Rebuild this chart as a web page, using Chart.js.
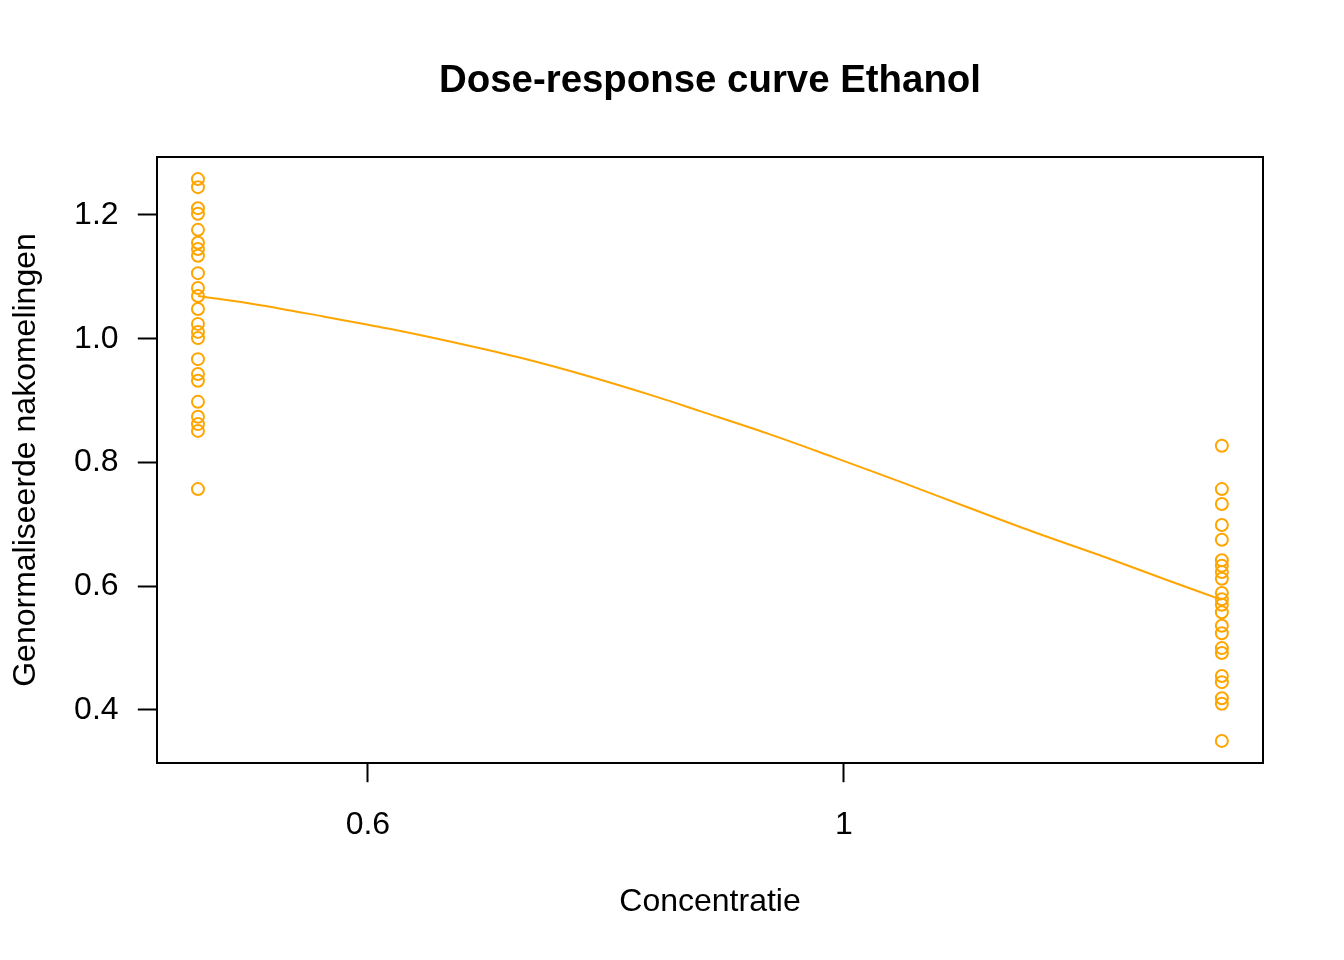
<!DOCTYPE html>
<html>
<head>
<meta charset="utf-8">
<style>
  html, body { margin: 0; padding: 0; background: #ffffff; }
  #wrap { width: 1344px; height: 960px; }
</style>
<script src="https://cdn.jsdelivr.net/npm/chart.js@4/dist/chart.umd.min.js"></script>
</head>
<body>
<div id="wrap"><canvas id="c" width="1344" height="960"></canvas></div>
<script>
// ---- data ----
const titleText = "Dose-response curve Ethanol";
const xLabel = "Concentratie";
const yLabel = "Genormaliseerde nakomelingen";

const lowDose = 0.5;
const highDose = 1.5;
const lowDoseValues = [1.258, 1.245, 1.211, 1.202, 1.176, 1.155, 1.145, 1.134, 1.106, 1.082,
  1.069, 1.048, 1.024, 1.011, 1.001, 0.967, 0.943, 0.932, 0.898, 0.874, 0.862, 0.851, 0.757];
const highDoseValues = [0.827, 0.757, 0.733, 0.699, 0.675, 0.642, 0.633, 0.623, 0.612, 0.589,
  0.579, 0.570, 0.558, 0.536, 0.524, 0.500, 0.492, 0.455, 0.445, 0.419, 0.410, 0.350];

const curveX = [0.5, 0.533, 0.572, 0.614, 0.660, 0.709, 0.761, 0.818, 0.857, 0.921, 0.988,
  1.062, 1.141, 1.225, 1.316, 1.414, 1.5];
const curveY = [1.069, 1.055, 1.036, 1.016, 0.993, 0.968, 0.939, 0.906, 0.883, 0.847, 0.809,
  0.769, 0.728, 0.688, 0.650, 0.610, 0.578];

const xTickValues = [0.6, 1];
const xTickLabels = ["0.6", "1"];
const yTickValues = [0.4, 0.6, 0.8, 1.0, 1.2];
const yTickLabels = ["0.4", "0.6", "0.8", "1.0", "1.2"];

const xRange = [0.4785, 1.5677];
const yRange = [0.3143, 1.2937];

// ---- build ----
const FONT = "'Liberation Sans', Arial, Helvetica, sans-serif";
const ORANGE = "#FFA500";

const pointData = [];
lowDoseValues.forEach(v => pointData.push({x: lowDose, y: v}));
highDoseValues.forEach(v => pointData.push({x: highDose, y: v}));
const curveData = curveX.map((x, i) => ({x: x, y: curveY[i]}));

const boxPlugin = {
  id: 'box',
  afterDraw(chart) {
    const a = chart.chartArea;
    const ctx = chart.ctx;
    ctx.save();
    ctx.strokeStyle = '#000';
    ctx.lineWidth = 2;
    ctx.strokeRect(a.left, a.top, a.right - a.left, a.bottom - a.top);
    // main title, centred over the plotting region like R's title()
    ctx.fillStyle = '#000';
    ctx.font = "bold 38.4px " + FONT;
    ctx.textAlign = 'center';
    ctx.textBaseline = 'middle';
    ctx.fillText(titleText, (a.left + a.right) / 2, 81);
    ctx.restore();
  }
};

new Chart(document.getElementById('c'), {
  type: 'scatter',
  data: {
    datasets: [
      {
        label: 'fit',
        data: curveData,
        showLine: true,
        borderColor: ORANGE,
        borderWidth: 2,
        pointRadius: 0,
        cubicInterpolationMode: 'monotone',
        fill: false
      },
      {
        label: 'observations',
        data: pointData,
        pointStyle: 'circle',
        pointRadius: 6,
        pointBorderWidth: 2,
        borderColor: ORANGE,
        backgroundColor: 'rgba(0,0,0,0)',
        pointBackgroundColor: 'rgba(0,0,0,0)',
        showLine: false
      }
    ]
  },
  options: {
    responsive: false,
    animation: false,
    devicePixelRatio: 1,
    layout: { padding: { left: 0, right: 81, top: 157, bottom: 0 } },
    plugins: {
      legend: { display: false },
      tooltip: { enabled: false },
      title: { display: false }
    },
    scales: {
      x: {
        type: 'logarithmic',
        position: 'bottom',
        min: xRange[0],
        max: xRange[1],
        afterBuildTicks(scale) {
          scale.ticks = xTickValues.map(v => ({value: v}));
        },
        afterFit(scale) { scale.height = 197; },
        ticks: {
          autoSkip: false,
          maxRotation: 0,
          color: '#000',
          font: { family: FONT, size: 32, lineHeight: 1.2 },
          padding: 24,
          callback(value) {
            const i = xTickValues.indexOf(value);
            return i >= 0 ? xTickLabels[i] : '';
          }
        },
        grid: {
          display: true,
          drawOnChartArea: false,
          drawTicks: true,
          tickLength: 19.2,
          tickWidth: 2,
          tickColor: '#000'
        },
        border: { display: false },
        title: {
          display: true,
          text: xLabel,
          color: '#000',
          font: { family: FONT, size: 32, lineHeight: 1.2 },
          padding: { top: 0, bottom: 39 }
        }
      },
      y: {
        type: 'linear',
        position: 'left',
        min: yRange[0],
        max: yRange[1],
        afterBuildTicks(scale) {
          scale.ticks = yTickValues.map(v => ({value: v}));
        },
        afterFit(scale) { scale.width = 157; },
        ticks: {
          autoSkip: false,
          color: '#000',
          font: { family: FONT, size: 32, lineHeight: 1.2 },
          padding: 19.2,
          callback(value) {
            const i = yTickValues.findIndex(t => Math.abs(t - value) < 1e-9);
            return i >= 0 ? yTickLabels[i] : '';
          }
        },
        grid: {
          display: true,
          drawOnChartArea: false,
          drawTicks: true,
          tickLength: 19.2,
          tickWidth: 2,
          tickColor: '#000'
        },
        border: { display: false },
        title: {
          display: true,
          text: yLabel,
          color: '#000',
          font: { family: FONT, size: 32, lineHeight: 1.2 },
          padding: { top: 7, bottom: 0 }
        }
      }
    }
  },
  plugins: [boxPlugin]
});
</script>
</body>
</html>
